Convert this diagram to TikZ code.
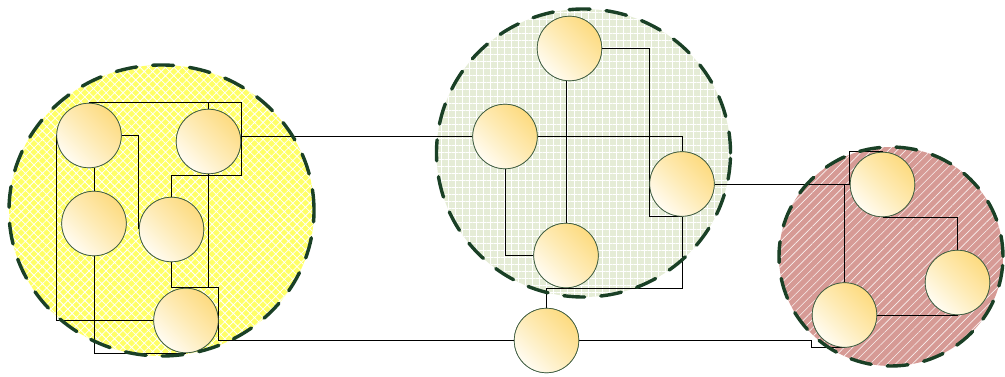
\documentclass[tikz,border=0pt]{standalone}
\usetikzlibrary{patterns.meta,calc}
\definecolor{yelfill}{HTML}{FFFF66}
\definecolor{grnfill}{HTML}{E5ECD6}
\definecolor{redfill}{HTML}{D69A95}
\definecolor{dashgrn}{HTML}{1A4026}
\definecolor{ballrim}{HTML}{3E5C40}
\definecolor{balllight}{HTML}{FFFCF2}
\definecolor{ballmid}{HTML}{FEEBB6}
\definecolor{balldark}{HTML}{FDDB80}
\tikzset{
  ball/.style={circle, minimum size=64.5pt, inner sep=0pt, draw=ballrim, line width=0.7pt,
    top color=balldark, bottom color=balllight, middle color=ballmid, shading angle=-45},
  wire/.style={draw=black, line width=0.85pt},
  rim/.style={draw=dashgrn, line width=3.4pt, dash pattern=on 21pt off 16pt, line cap=round},
}
\begin{document}
\begin{tikzpicture}[x=1pt,y=-1pt]
\useasboundingbox (0,0) rectangle (1005,377);
% cluster areas
\fill[yelfill] (161.5,210.5) ellipse [x radius=152.5pt, y radius=145.5pt];
\fill[pattern={Hatch[angle=45,distance=6pt,line width=0.75pt]}, pattern color=white] (161.5,210.5) ellipse [x radius=152.5pt, y radius=145.5pt];
\fill[grnfill] (583.5,153) ellipse [x radius=147pt, y radius=144pt];
\fill[pattern={Hatch[angle=0,distance=7pt,line width=1pt]}, pattern color=white] (583.5,153) ellipse [x radius=147pt, y radius=144pt];
\fill[redfill] (891,256.5) ellipse [x radius=112pt, y radius=109.5pt];
\fill[pattern={Lines[angle=45,distance=6pt,line width=0.65pt]}, pattern color=white!85!redfill] (891,256.5) ellipse [x radius=112pt, y radius=109.5pt];
% route levels
\coordinate (ytop) at (0,102);
\coordinate (ymid) at (0,175);
\coordinate (xright) at (241,0);
% nodes
\node[ball] (A) at (89,135.5) {};
\node[ball] (B) at (208.5,141.5) {};
\node[ball] (C) at (94,223.5) {};
\node[ball] (D) at (171.5,229.5) {};
\node[ball] (E) at (186,320.5) {};
\node[ball] (F) at (569.5,48.5) {};
\node[ball] (G) at (505,136.5) {};
\node[ball] (H) at (682,184) {};
\node[ball] (I) at (566,255.5) {};
\node[ball] (J) at (546.5,340.5) {};
\node[ball] (K) at (882.5,184.5) {};
\node[ball] (L) at (957.5,282.5) {};
\node[ball] (M) at (844.5,315) {};
% connectors
\path[wire] (A.north) |- (xright |- ytop) -- (xright |- ymid) -| (D.north);
\path[wire] (B.north) -- (B.north |- ytop);
\path[wire] (C.north) -- (C.north |- A.south);
\path[wire] (A.east) -| (D.west);
\path[wire] (A.west) |- (E.west);
\path[wire] (C.south) |- (E.south);
\path[wire] (B.south) |- (E.north);
\path[wire] (D.south) |- (E.north);
\path[wire] (E.north) -- ++(32,0) |- (J.west);
\path[wire] (G.west) -- (G.west -| xright);
\path[wire] (G.east) -| (H.north);
\path[wire] (I.north) -- (I.north |- F.south);
\path[wire] (F.east) -- ++(47,0) |- (H.south);
\path[wire] (H.south) -- ++(0,72) -| (J.north);
\path[wire] (G.south) |- (I.west);
\path[wire] (H.east) -- (H.east -| K.west);
\path[wire] (K.west) |- (K.north);
\path[wire] (M.north) -- (M.north |- K.west);
\path[wire] (K.south) -| (L.north);
\path[wire] (M.east) -| (L.south);
\path[wire] (J.east) -- ++(232,0) |- (M.south);
% nodes drawn again above the connectors
\foreach \n in {A,B,C,D,E,F,G,H,I,J,K,L,M}{
  \path[ball] (\n.center) circle [radius=32.25pt];
}
% dashed rims
\path[rim] (161.5,210.5) ellipse [x radius=152.5pt, y radius=145.5pt];
\path[rim] (583.5,153) ellipse [x radius=147pt, y radius=144pt];
\path[rim] (891,256.5) ellipse [x radius=112pt, y radius=109.5pt];
\end{tikzpicture}
\end{document}
